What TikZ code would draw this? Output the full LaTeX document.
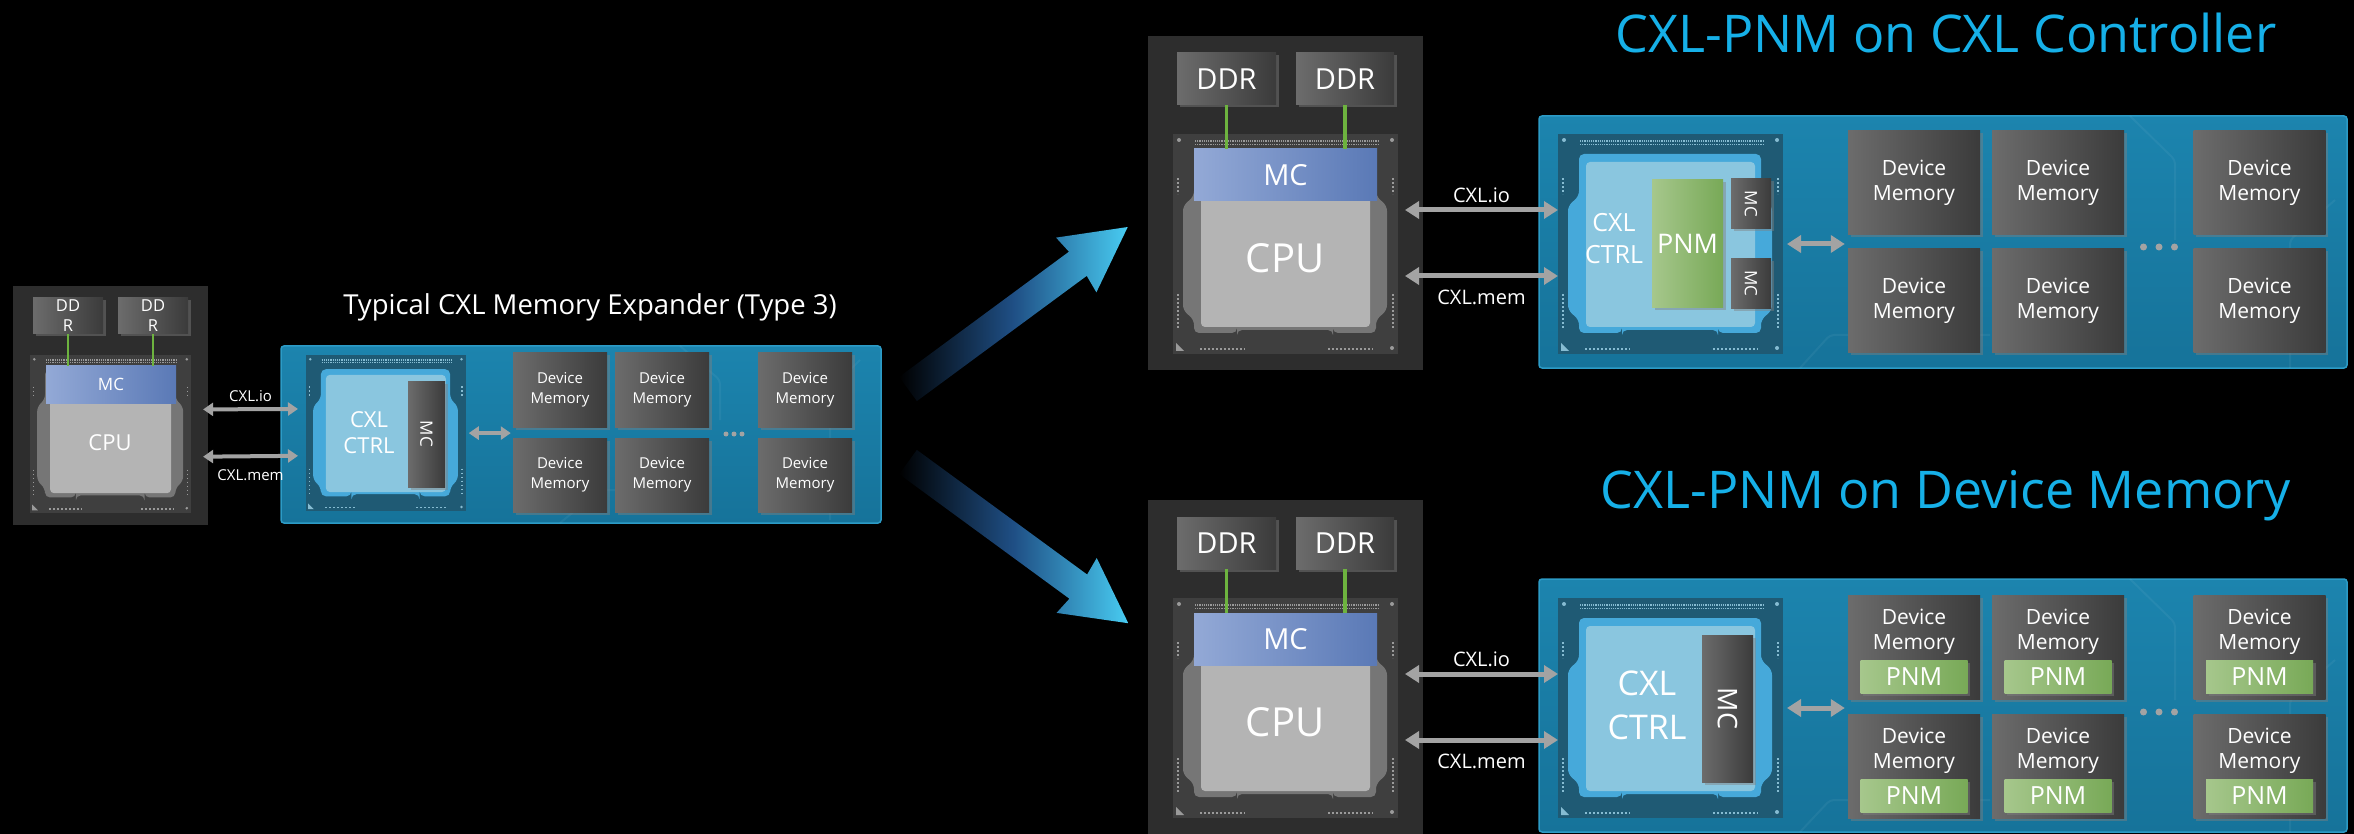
\documentclass[tikz,border=0pt]{standalone}
\usepackage{fontspec}
\setmainfont{Open Sans}
\usetikzlibrary{positioning,arrows.meta,shadows}

\definecolor{hostpanel}{HTML}{2D2D2D}
\definecolor{cpusub}{HTML}{3F3F3F}
\definecolor{cpupin}{HTML}{9A9A9A}
\definecolor{cpulid}{HTML}{767676}
\definecolor{cpudie}{HTML}{B4B4B4}
\definecolor{ctrlsub}{HTML}{1F5A74}
\definecolor{ctrlpin}{HTML}{86BCD2}
\definecolor{ctrllid}{HTML}{46A9DA}
\definecolor{ctrldie}{HTML}{8AC6DF}
\definecolor{boardtop}{HTML}{1C84AE}
\definecolor{boardbot}{HTML}{16739A}
\definecolor{boardedge}{HTML}{2C9BC6}
\definecolor{mclight}{HTML}{93A9D6}
\definecolor{mcshade}{HTML}{5A79B6}
\definecolor{memlight}{HTML}{6C6C6C}
\definecolor{memshade}{HTML}{3B3B3B}
\definecolor{pnmlight}{HTML}{A6C78C}
\definecolor{pnmshade}{HTML}{78A957}
\definecolor{wirecol}{HTML}{6DB33F}
\definecolor{linkgray}{HTML}{A3A3A3}
\definecolor{titlecyan}{HTML}{16B0E8}
\definecolor{flowmid}{HTML}{1F4F85}
\definecolor{flowtip}{HTML}{48CCF2}

\begin{document}
\begin{tikzpicture}[x=1pt, y=-1pt,
  every node/.style={inner sep=0pt, text=white},
  host/.style={fill=hostpanel},
  board/.style={top color=boardtop, bottom color=boardbot, draw=boardedge, line width=1.5pt, rounded corners=3pt},
  boxshadow/.style={drop shadow={shadow xshift=2.5pt, shadow yshift=-2.5pt, opacity=0.45}},
  ddr/.style={boxshadow, left color=memlight, right color=memshade, align=center},
  mcbox/.style={left color=mclight, right color=mcshade},
  mcside/.style={boxshadow, rotate=-90, left color=memlight, right color=memshade},
  mem/.style={boxshadow, left color=memlight, right color=memshade, align=center},
  pnm/.style={boxshadow, left color=pnmlight, right color=pnmshade},
  wire/.style={draw=wirecol, line width=3.5pt},
  link/.style={draw=linkgray, line width=5pt, >={Triangle[length=14pt,width=17pt]}, <->},
  linksmall/.style={draw=linkgray, line width=4pt, >={Triangle[length=10pt,width=13pt]}, <->},
  trace/.style={draw=white, draw opacity=0.05, line width=2pt, rounded corners=4pt},
  title/.style={text=titlecyan, font=\fontsize{52}{60}\selectfont},
  pics/chip/.style n args={4}{code={
    % package substrate with pins
    \fill[#1] (0,0) rectangle (225,220);
    \draw[#2, line width=1.2pt, dash pattern=on 1.2pt off 1pt] (22,7) -- (205,7) (22,10.5) -- (205,10.5);
    \fill[#2] (6,6) circle[radius=2] (219,6) circle[radius=2] (219,214) circle[radius=2];
    \fill[#2] (3,209) -- (3,217) -- (11,217) -- cycle;
    \draw[#2, line width=1.6pt, dash pattern=on 1.6pt off 2.4pt] (27,215) -- (72,215) (155,215) -- (200,215)
      (5,44) -- (5,60) (220,44) -- (220,60) (5,160) -- (5,195) (220,160) -- (220,195);
    % lid and die
    \fill[#3, rounded corners=5pt] (21,20) -- (203,20) -- (203,62) -- (214,72) -- (214,176) -- (203,186)
      -- (203,199) -- (160,199) -- (160,196) -- (64,196) -- (64,199) -- (21,199) -- (21,186)
      -- (10,176) -- (10,72) -- (21,62) -- cycle;
    \fill[#4, rounded corners=4pt] (28,28) rectangle (197,193);
    \coordinate (-wio) at (0,76);
    \coordinate (-eio) at (225,76);
    \coordinate (-wmem) at (0,142);
    \coordinate (-emem) at (225,142);
    \coordinate (-east) at (225,110);
  }}
]

\fill[black] (0,0) rectangle (2354,834);
\useasboundingbox (0,0) rectangle (2354,834);

% flow arrows
\begin{scope}[shift={(908,389)}, rotate=36.4]
  \shade[left color=black, right color=flowtip, middle color=flowmid]
    (0,-15) -- (211,-15) -- (209,-34) -- (273,0) -- (209,34) -- (211,15) -- (0,15) -- cycle;
\end{scope}
\begin{scope}[shift={(908,462)}, rotate=-36.2]
  \shade[left color=black, right color=flowtip, middle color=flowmid]
    (0,-15) -- (211,-15) -- (209,-34) -- (273,0) -- (209,34) -- (211,15) -- (0,15) -- cycle;
\end{scope}

% ---- typical expander ----
\node[host, minimum width=195pt, minimum height=239pt] (hostA) at (110.5,405.5) {};
\node[ddr, minimum width=70pt, minimum height=36pt, font=\fontsize{16.5}{20}\selectfont] (ddrA1) at (68,316) {DD\\R};
\node[ddr, minimum width=70pt, minimum height=36pt, font=\fontsize{16.5}{20}\selectfont] (ddrA2) at (153,316) {DD\\R};
\pic[scale=0.716] (cpuA) at (30,355) {chip={cpusub}{cpupin}{cpulid}{cpudie}};
\node[mcbox, minimum width=130pt, minimum height=37pt, font=\fontsize{17}{20}\selectfont] (mcA) at (111,384.5) {MC};
\node[font=\fontsize{22}{26}\selectfont] (cpuAtxt) at (110,443) {CPU};
\draw[wire, line width=2.5pt] (ddrA1.south) -- (ddrA1.south |- mcA.north);
\draw[wire, line width=2.5pt] (ddrA2.south) -- (ddrA2.south |- mcA.north);

\node[board, minimum width=600pt, minimum height=177pt] (boardA) at (581,434.5) {};
\draw[trace] (560,523) -- (600,490) -- (700,490);
\draw[trace] (680,346) -- (720,380) -- (720,420);
\draw[trace] (860,360) -- (830,390) -- (830,520);
\node[font=\fontsize{27.5}{33}\selectfont] (titleA) at (590,307) {Typical CXL Memory Expander (Type 3)};
\pic[scale=0.71] (ctrlA) at (306,355) {chip={ctrlsub}{ctrlpin}{ctrllid}{ctrldie}};
\node[align=center, font=\fontsize{22}{26}\selectfont] (ctrlAtxt) at (369,433) {CXL\\CTRL};
\node[mcside, minimum width=106pt, minimum height=37pt, font=\fontsize{17}{20}\selectfont] (mcA2) at (426.5,434) {MC};

\node[mem, minimum width=94pt, minimum height=74pt, font=\fontsize{15}{20.5}\selectfont] (dmA11) at (560,390) {Device\\Memory};
\node[mem, minimum width=94pt, minimum height=74pt, font=\fontsize{15}{20.5}\selectfont] (dmA12) at (662,390) {Device\\Memory};
\node[mem, minimum width=94pt, minimum height=74pt, font=\fontsize{15}{20.5}\selectfont] (dmA13) at (805,390) {Device\\Memory};
\node[mem, minimum width=94pt, minimum height=74pt, font=\fontsize{15}{20.5}\selectfont] (dmA21) at (560,475) {Device\\Memory};
\node[mem, minimum width=94pt, minimum height=74pt, font=\fontsize{15}{20.5}\selectfont] (dmA22) at (662,475) {Device\\Memory};
\node[mem, minimum width=94pt, minimum height=74pt, font=\fontsize{15}{20.5}\selectfont] (dmA23) at (805,475) {Device\\Memory};
\fill[linkgray] (726,434) circle[radius=2.5] (734,434) circle[radius=2.5] (742,434) circle[radius=2.5];

\draw[linksmall] ([xshift=12pt]cpuA-eio) -- node[above=5pt, font=\fontsize{15}{18}\selectfont] {CXL.io} ([xshift=-8pt]ctrlA-wio);
\draw[linksmall] ([xshift=12pt]cpuA-emem) -- node[below=11pt, font=\fontsize{15}{18}\selectfont] {CXL.mem} ([xshift=-8pt]ctrlA-wmem);
\draw[linksmall, shorten >=2pt] ([xshift=3pt]ctrlA-east) -- (dmA11.west |- ctrlA-east);

% ---- PNM on CXL controller ----
\node[host, minimum width=275pt, minimum height=334pt] (hostB) at (1285.5,203) {};
\node[ddr, minimum width=99pt, minimum height=52pt, font=\fontsize{29}{34}\selectfont] (ddrB1) at (1226.5,79) {DDR};
\node[ddr, minimum width=98pt, minimum height=52pt, font=\fontsize{29}{34}\selectfont] (ddrB2) at (1345,79) {DDR};
\pic (cpuB) at (1173,134) {chip={cpusub}{cpupin}{cpulid}{cpudie}};
\node[mcbox, minimum width=183pt, minimum height=52pt, font=\fontsize{29}{34}\selectfont] (mcB) at (1285.5,175) {MC};
\node[font=\fontsize{40}{46}\selectfont] (cpuBtxt) at (1285,258) {CPU};
\draw[wire] (ddrB1.south) -- (ddrB1.south |- mcB.north);
\draw[wire] (ddrB2.south) -- (ddrB2.south |- mcB.north);

\node[board, minimum width=808pt, minimum height=252pt] (boardB) at (1943,242) {};
\draw[trace] (1800,368) -- (1830,335) -- (1990,335);
\draw[trace] (2130,116) -- (2175,160) -- (2175,240);
\draw[trace] (2335,200) -- (2290,240) -- (2290,368);
\node[title] (titleB) at (1946,33) {CXL-PNM on CXL Controller};
\pic (ctrlB) at (1558,134) {chip={ctrlsub}{ctrlpin}{ctrllid}{ctrldie}};
\node[align=center, font=\fontsize{25}{32}\selectfont] (ctrlBtxt) at (1614,239) {CXL\\CTRL};
\node[pnm, minimum width=71pt, minimum height=128pt, font=\fontsize{27}{32}\selectfont] (pnmB) at (1687.5,244) {PNM};
\node[mcside, minimum width=50pt, minimum height=40pt, font=\fontsize{17}{20}\selectfont] (mcB1) at (1751,204) {MC};
\node[mcside, minimum width=50pt, minimum height=40pt, font=\fontsize{17}{20}\selectfont] (mcB2) at (1751,283.5) {MC};

\node[mem, minimum width=132pt, minimum height=104pt, font=\fontsize{21}{25}\selectfont] (dmB11) at (1914,183) {Device\\Memory};
\node[mem, minimum width=132pt, minimum height=104pt, font=\fontsize{21}{25}\selectfont] (dmB12) at (2058,183) {Device\\Memory};
\node[mem, minimum width=132pt, minimum height=104pt, font=\fontsize{21}{25}\selectfont] (dmB13) at (2259.5,183) {Device\\Memory};
\node[mem, minimum width=132pt, minimum height=104pt, font=\fontsize{21}{25}\selectfont] (dmB21) at (1914,301) {Device\\Memory};
\node[mem, minimum width=132pt, minimum height=104pt, font=\fontsize{21}{25}\selectfont] (dmB22) at (2058,301) {Device\\Memory};
\node[mem, minimum width=132pt, minimum height=104pt, font=\fontsize{21}{25}\selectfont] (dmB23) at (2259.5,301) {Device\\Memory};
\fill[linkgray] (2143.5,247) circle[radius=3.5] (2159,247) circle[radius=3.5] (2174.5,247) circle[radius=3.5];

\draw[link] ([xshift=7pt]cpuB-eio) -- node[above=5pt, font=\fontsize{20}{24}\selectfont] {CXL.io} (ctrlB-wio);
\draw[link] ([xshift=7pt]cpuB-emem) -- node[below=12pt, font=\fontsize{20}{24}\selectfont] {CXL.mem} (ctrlB-wmem);
\draw[link, shorten >=3pt] ([xshift=4pt]ctrlB-east) -- (dmB11.west |- ctrlB-east);

% ---- PNM on device memory ----
\node[host, minimum width=275pt, minimum height=334pt] (hostC) at (1285.5,667) {};
\node[ddr, minimum width=99pt, minimum height=52pt, font=\fontsize{29}{34}\selectfont] (ddrC1) at (1226.5,543) {DDR};
\node[ddr, minimum width=98pt, minimum height=52pt, font=\fontsize{29}{34}\selectfont] (ddrC2) at (1345,543) {DDR};
\pic (cpuC) at (1173,598) {chip={cpusub}{cpupin}{cpulid}{cpudie}};
\node[mcbox, minimum width=183pt, minimum height=52pt, font=\fontsize{29}{34}\selectfont] (mcC) at (1285.5,639) {MC};
\node[font=\fontsize{40}{46}\selectfont] (cpuCtxt) at (1285,722) {CPU};
\draw[wire] (ddrC1.south) -- (ddrC1.south |- mcC.north);
\draw[wire] (ddrC2.south) -- (ddrC2.south |- mcC.north);

\node[board, minimum width=808pt, minimum height=253pt] (boardC) at (1943,705.5) {};
\draw[trace] (1800,832) -- (1830,800) -- (1990,800);
\draw[trace] (2130,579) -- (2175,623) -- (2175,700);
\draw[trace] (2335,660) -- (2290,700) -- (2290,832);
\node[title] (titleC) at (1946,496) {CXL-PNM on Device Memory};
\pic (ctrlC) at (1558,598) {chip={ctrlsub}{ctrlpin}{ctrllid}{ctrldie}};
\node[align=center, font=\fontsize{34}{44}\selectfont] (ctrlCtxt) at (1647,705) {CXL\\CTRL};
\node[mcside, minimum width=147pt, minimum height=51pt, font=\fontsize{27}{32}\selectfont] (mcC2) at (1727.5,708.5) {MC};

\node[mem, minimum width=132pt, minimum height=104pt] (dmC11) at (1914,647) {};
\node[mem, minimum width=132pt, minimum height=104pt] (dmC12) at (2058,647) {};
\node[mem, minimum width=132pt, minimum height=104pt] (dmC13) at (2259.5,647) {};
\node[mem, minimum width=132pt, minimum height=104pt] (dmC21) at (1914,766) {};
\node[mem, minimum width=132pt, minimum height=104pt] (dmC22) at (2058,766) {};
\node[mem, minimum width=132pt, minimum height=104pt] (dmC23) at (2259.5,766) {};
\node[align=center, font=\fontsize{21}{25}\selectfont] at ([yshift=-37pt]dmC11.north) {Device\\Memory};
\node[align=center, font=\fontsize{21}{25}\selectfont] at ([yshift=-37pt]dmC12.north) {Device\\Memory};
\node[align=center, font=\fontsize{21}{25}\selectfont] at ([yshift=-37pt]dmC13.north) {Device\\Memory};
\node[align=center, font=\fontsize{21}{25}\selectfont] at ([yshift=-37pt]dmC21.north) {Device\\Memory};
\node[align=center, font=\fontsize{21}{25}\selectfont] at ([yshift=-37pt]dmC22.north) {Device\\Memory};
\node[align=center, font=\fontsize{21}{25}\selectfont] at ([yshift=-37pt]dmC23.north) {Device\\Memory};
\node[pnm, minimum width=107pt, minimum height=33pt, font=\fontsize{25}{30}\selectfont, above=6pt of dmC11.south] (pnmC11) {PNM};
\node[pnm, minimum width=107pt, minimum height=33pt, font=\fontsize{25}{30}\selectfont, above=6pt of dmC12.south] (pnmC12) {PNM};
\node[pnm, minimum width=107pt, minimum height=33pt, font=\fontsize{25}{30}\selectfont, above=6pt of dmC13.south] (pnmC13) {PNM};
\node[pnm, minimum width=107pt, minimum height=33pt, font=\fontsize{25}{30}\selectfont, above=6pt of dmC21.south] (pnmC21) {PNM};
\node[pnm, minimum width=107pt, minimum height=33pt, font=\fontsize{25}{30}\selectfont, above=6pt of dmC22.south] (pnmC22) {PNM};
\node[pnm, minimum width=107pt, minimum height=33pt, font=\fontsize{25}{30}\selectfont, above=6pt of dmC23.south] (pnmC23) {PNM};
\fill[linkgray] (2143.5,712) circle[radius=3.5] (2159,712) circle[radius=3.5] (2174.5,712) circle[radius=3.5];

\draw[link] ([xshift=7pt]cpuC-eio) -- node[above=5pt, font=\fontsize{20}{24}\selectfont] {CXL.io} (ctrlC-wio);
\draw[link] ([xshift=7pt]cpuC-emem) -- node[below=12pt, font=\fontsize{20}{24}\selectfont] {CXL.mem} (ctrlC-wmem);
\draw[link, shorten >=3pt] ([xshift=4pt]ctrlC-east) -- (dmC11.west |- ctrlC-east);
\end{tikzpicture}
\end{document}
